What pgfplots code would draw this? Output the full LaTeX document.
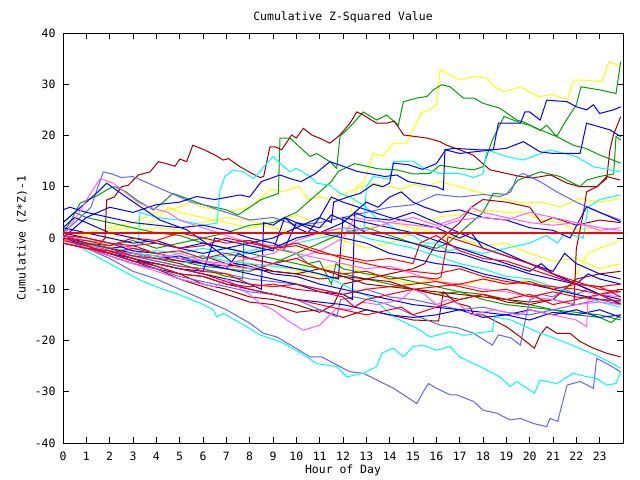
\documentclass[border=0pt]{standalone}
\usepackage{pgfplots}
\pgfplotsset{compat=1.18}
\usepackage{fontspec}
\newfontfamily\gfont{DejaVu Sans Mono}
\definecolor{gR}{HTML}{FF0000}
\definecolor{gDR}{HTML}{A00000}
\definecolor{gG}{HTML}{00A000}
\definecolor{gB}{HTML}{0000FF}
\definecolor{gLB}{HTML}{6464FF}
\definecolor{gC}{HTML}{00FFFF}
\definecolor{gM}{HTML}{FF60FF}
\definecolor{gY}{HTML}{FFFF00}
\begin{document}
\begin{tikzpicture}
\useasboundingbox (-63bp,-37bp) rectangle (577bp,443bp);
\begin{axis}[
  scale only axis, width=560bp, height=410bp,
  xmin=0, xmax=24, ymin=-40, ymax=40,
  xtick={0,1,2,3,4,5,6,7,8,9,10,11,12,13,14,15,16,17,18,19,20,21,22,23},
  xticklabels={0,1,2,3,4,5,6,7,8,9,10,11,12,13,14,15,16,17,18,19,20,21,22,23},
  ytick={-40,-30,-20,-10,0,10,20,30,40},
  yticklabels={-40,-30,-20,-10,0,10,20,30,40},
  tick align=inside, major tick length=6bp,
  tick style={black, line width=0.7bp},
  axis line style={black, line width=0.9bp},
  ticklabel style={font=\gfont\fontsize{11.5}{13}\selectfont},
  xticklabel style={anchor=center, yshift=-13bp},
  yticklabel style={anchor=east, xshift=-4bp},
  title={Cumulative Z-Squared Value},
  title style={font=\gfont\fontsize{11.5}{13}\selectfont, at={(axis description cs:0.5,1)}, anchor=center, yshift=10bp},
  xlabel={Hour of Day},
  xlabel style={font=\gfont\fontsize{11.5}{13}\selectfont, at={(axis description cs:0.5,0)}, anchor=center, yshift=-27bp},
  ylabel={Cumulative (Z*Z)-1},
  ylabel style={font=\gfont\fontsize{11.5}{13}\selectfont, at={(axis description cs:-0.0732,0.5)}, anchor=center},
  every axis plot/.append style={line width=1bp, mark=none},
]
% ---- yellow
\addplot[gY] coordinates {(0,0.5)(0.5,-0.5)(1,-1.5)(1.5,-1)(2,-2.5)(3,-3.5)(4,-3)(5,-4)(6,-3.5)(7,-4.5)(8,-5)(9,-5.5)(9.86,-6.2)(10.5,-6.8)(11.2,-7.5)(11.87,-8.2)(11.95,-3)(12.3,4.2)(12.59,10)(12.9,11)(13.3,16.5)(13.7,16)(14.16,18.5)(14.73,18.5)(15.0,21.1)(15.37,24.5)(15.73,25)(16.0,26)(16.16,32.8)(16.59,31.8)(17.0,30.8)(17.6,31.5)(18.16,31.2)(18.5,29.5)(18.9,28.5)(19.6,29.5)(20.0,28.5)(20.4,27.6)(21.0,28)(21.6,26.9)(21.9,30.8)(22.4,30.8)(23.1,30.5)(23.4,34.4)(23.9,33.4)};
\addplot[gY] coordinates {(0,0)(1,1)(2,2)(3,3)(4,5)(5,6)(5.5,7)(6,6)(7,5)(8,6)(8.9,9.5)(9.4,9)(10.1,10.1)(10.5,7.5)(11,8)(11.5,7.5)(12,8.5)(12.5,9.5)(13.3,10.7)(14,10)(14.5,9.5)(15,10.5)(15.5,10)(16.16,11)(17,10)(18,8.7)(19,7.5)(19.73,6.8)(20.5,7)(21.3,6.1)(22.16,7.7)(23,7)(23.9,7.7)};
\addplot[gY] coordinates {(0,-0.5)(1,-1)(2,0)(3,1)(4,2)(5,1.5)(6,3)(7,4)(8,3.5)(9,2)(10,1)(11,0.5)(12,-0.5)(13,-2)(14,-1)(15,1)(15.5,3)(16.16,4.2)(17,4.5)(18,5.5)(19,5)(19.7,5.1)(20.5,3.5)(21.3,3)(21.9,1.6)(22.6,2)(23.2,1)(23.9,0.9)};
\addplot[gY] coordinates {(0,0)(1,-1.5)(2,-2.5)(3,-4)(4,-5)(5,-5.5)(6,-7)(7,-7.5)(7.5,-4.5)(8,-5)(9,-6.5)(10,-7)(10.5,-5)(11,-6)(12,-5)(13,-7)(14,-8)(15,-9)(16,-8)(17,-9.5)(18,-8)(19,-9)(20,-8)(21,-10)(21.6,-11)(22,-7)(22.5,-3)(23,-2)(23.9,-0.5)};
\addplot[gY] coordinates {(0,0)(1,0.5)(2,1.5)(3,2)(4,3.5)(4.5,6)(5,5)(6,4)(7,3)(8,2)(9,3)(10,4.5)(10.5,3.5)(11,2.5)(12,1)(13,2)(14,3)(15,2)(16,1)(17,0)(18,-1.5)(19,-1)(20,-3)(21,-4.5)(22,-4)(23,-6)(23.9,-5)};
% ---- green
\addplot[gG] coordinates {(0,1)(0.3,3)(0.73,6.8)(1.44,8.2)(2.0,9.7)(2.23,10.0)(2.7,9)(3.16,7.4)(3.87,5.5)(4.3,7)(4.7,8.7)(5.14,8.0)(6,6.5)(6.5,6)(7,5.5)(7.5,4.5)(8,6)(8.5,7.5)(9.23,8.7)(9.3,19.5)(9.73,19.5)(10.2,17.5)(10.59,15.9)(10.87,16.5)(11.44,14.9)(11.73,13.6)(11.87,19.8)(12.3,21.7)(12.87,24.6)(13.44,23.0)(13.87,24.0)(14.37,22.0)(14.59,26.6)(15.16,27.3)(15.59,27.6)(15.87,28.9)(16.23,29.9)(16.59,29.5)(17.16,27.3)(17.6,27.3)(18.0,26.3)(18.73,25.3)(19.45,23.0)(19.7,22.7)(20.45,21.1)(21.16,19.8)(21.87,18.1)(22.4,17.5)(23.0,16.2)(23.9,14.6)};
\addplot[gG] coordinates {(0,0)(1,-1)(2,-1.5)(3,-0.5)(4,-2)(5,-1)(6,0)(7,1)(8,2.5)(9,3)(10,5)(10.5,7)(11,9)(11.5,11)(11.8,13)(12.5,14.5)(13.5,13.5)(14.3,13.3)(15.0,12.5)(15.73,12.6)(16.16,14.2)(17.0,13.6)(17.6,13.3)(18.0,13.9)(18.4,19.1)(18.9,23.7)(19.6,22.5)(20.0,22.0)(20.45,21.0)(20.73,22.0)(21.16,19.8)(21.5,22.5)(22.0,26)(22.2,29.5)(23.0,28.9)(23.7,28.2)(23.9,34.4)};
\addplot[gG] coordinates {(0,0)(1,-1.5)(2,-2.5)(3,-3)(4,-4)(5,-4.5)(6,-5.5)(7,-6)(8,-6.5)(9,-5)(10,-3)(11,-1)(12,1)(13,2)(14,0.5)(15,-1)(16,-2)(16.5,-1)(17,1)(17.5,3)(18,5)(18.44,8.7)(19.0,8.5)(19.5,11.3)(20.45,12.9)(21.3,12.0)(22.16,10.0)(22.44,11.3)(23.0,12)(23.6,12.5)(23.7,19.8)(23.9,19.1)};
\addplot[gG] coordinates {(0,3)(0.5,5)(1,4)(2,3)(3,2)(4,1)(5,0.5)(6,-1)(7,-2)(8,-3)(9,-4)(10,-5)(11,-6)(12,-7)(13,-8)(14,-9)(15,-10)(16,-11)(17,-10.5)(18,-12)(19,-13)(20,-13.5)(21,-14)(22,-15)(23,-15.5)(23.5,-16.5)(23.9,-15)};
\addplot[gG] coordinates {(0,0)(1,-1.5)(2,-2.5)(3,-3.5)(4,-4.5)(5,-5.5)(6,-6)(7,-7.5)(7.7,-8)(7.75,-0.5)(8,-0.5)(9,-2)(10,-3)(10.5,-5)(11,-4.5)(11.5,-9)(11.7,-5)(12,-6)(13,-7)(14,-7.5)(15,-8.5)(16,-9.5)(17,-10.5)(18,-11)(19,-12)(20,-13)(21,-14)(22,-14.5)(23,-15)(23.9,-16)};
% ---- dark red
\addplot[gDR] coordinates {(0,0)(0.5,-0.8)(1,-1.2)(1.5,-1.5)(1.8,0)(1.87,7.4)(2.2,8.0)(2.51,10.0)(2.8,10.3)(3.23,12.3)(3.73,12.9)(4.09,14.9)(4.51,14.4)(4.8,14.0)(5.01,15.4)(5.3,14.9)(5.56,18.1)(6.01,17.3)(6.51,16.2)(6.87,15.2)(7.09,15.5)(7.59,13.9)(8.09,12.6)(8.44,11.8)(8.6,12)(8.87,17.8)(9.09,17.8)(9.37,17.2)(9.8,20.1)(10.0,19.5)(10.3,21.4)(10.66,20.1)(11.09,19.3)(11.44,18.5)(11.87,20.1)(12.3,22.4)(12.59,24.6)(12.87,24.0)(13.44,22.4)(13.87,22.4)(14.2,22.8)(14.6,20.1)(15.6,19.5)(16.16,18.8)(16.44,18.1)(17.0,17.2)(17.57,16.2)(18.3,13.3)(19.0,12.6)(19.6,12.0)(20.1,11.7)(20.9,12.3)(21.6,10.7)(22.16,10.0)(22.9,10.0)(23.3,12.0)(23.87,11.3)};
\addplot[gDR] coordinates {(0,0)(1,-1.5)(2,-2)(3,-3)(4,-3.5)(5,-4.5)(6,-5)(7,-5.5)(8,-5)(9,-6.5)(10,-7)(11,-8)(12,-7.5)(13,-9)(14,-9.5)(15,-10)(16,-10.5)(17,-11)(18,-11.5)(19,-12)(20,-12.5)(21,-12)(21.9,-13)(22.0,-2)(22.3,4.8)(22.44,9.0)(22.87,10.0)(23.3,11.6)(23.44,17.2)(23.59,20.1)(23.9,23.7)};
\addplot[gDR] coordinates {(0,0)(1,-2)(2,-3.5)(3,-5)(4,-6)(5,-8)(6,-9.5)(7,-11)(8,-12.5)(9,-13)(10,-14.5)(11,-14)(12,-15.5)(13,-14)(14,-15)(15,-16)(16.1,-16.2)(16.3,-10.5)(16.87,-12.7)(17.44,-13.4)(17.6,-15.0)(18.0,-15.0)(19.0,-17.3)(19.6,-19.3)(20.2,-21.5)(20.45,-18.9)(20.73,-17.3)(21.16,-18.6)(21.73,-18.6)(22.16,-20.2)(22.73,-21.5)(23.3,-22.5)(23.9,-23.2)};
\addplot[gDR] coordinates {(0,0)(1,-2)(2,-3)(3,-4.5)(4,-6)(5,-7)(6,-9)(7,-10)(8,-11.5)(9,-12)(10,-13)(11,-14.5)(11.6,-13)(12,-9)(13,-8)(14,-8.5)(15,-10)(16,-11)(17,-12)(18,-11)(19,-12.5)(20,-13)(21,-12)(22,-8)(23,-7)(23.9,-6.5)};
\addplot[gDR] coordinates {(0,0)(1,-1)(2,-2)(3,-1.5)(4,-3)(5,-4)(6,-3.5)(7,-5)(8,-6)(9,-6.5)(10,-7)(11,-6)(12,-7.5)(13,-8)(14,-7)(15,-6)(15.5,-5)(16,-1)(16.5,1)(17,3)(17.5,6)(18,7.5)(19,7)(20,6)(20.5,3)(21,4)(22,2.5)(23,3.5)(23.9,3)};
% ---- light blue
\addplot[gLB] coordinates {(0,0)(0.5,-1)(1,-2)(2,-4)(3,-6.5)(4,-8)(5,-10)(6,-12)(7,-14)(8.0,-16.6)(8.59,-18.6)(9.16,-19.3)(9.87,-21.2)(10.59,-23.2)(11.09,-23.2)(11.87,-25.1)(12.3,-26.1)(12.87,-26.4)(13.44,-27.7)(14.16,-29.3)(14.73,-31.0)(15.16,-32.3)(15.44,-30.0)(15.66,-28.4)(16.0,-29.3)(16.59,-30.6)(16.87,-30.6)(17.6,-31.9)(18.0,-33.6)(18.6,-34.2)(19.16,-35.5)(19.6,-35.2)(20.16,-36.2)(20.73,-36.8)(20.87,-35.2)(21.2,-35.8)(21.6,-28.7)(22.16,-28.0)(22.73,-29.3)(22.87,-23.5)(23.3,-24.5)(23.9,-26.1)};
\addplot[gLB] coordinates {(0,0)(1,-1.5)(2,-3.5)(3,-5)(4,-6)(5,-7.5)(6,-8.5)(7,-9.5)(8,-10.5)(9,-11)(10,-12)(11,-14)(11.73,-15.4)(11.9,-12)(12.5,-11.5)(13,-12)(13.73,-12.7)(14.5,-14)(15,-15)(15.6,-16)(16.16,-17)(16.9,-17.5)(17.6,-18.6)(18.4,-20.9)(18.66,-18.9)(19.2,-19.5)(19.6,-20.9)(19.8,-16.3)(20.0,-12.1)(20.5,-11)(21,-11.5)(21.5,-10)(22,-11)(22.5,-10)(23,-11)(23.9,-10.5)};
\addplot[gLB] coordinates {(0,1)(0.5,3)(1.2,6)(1.5,10)(1.73,12.9)(2.1,12.5)(2.5,11.8)(3.0,12.0)(3.5,11)(4.3,9.4)(5,8)(5.5,7)(6,6.5)(7,5)(8,3.5)(9,4)(10,2.5)(11,3)(12,4)(13,5)(14,6)(15,6.5)(16,8.5)(17,8)(18,8.5)(18.73,8.1)(19.2,9)(19.45,12.0)(19.73,12.6)(20.45,11)(21.16,9.0)(22,7)(23,5)(23.9,3.5)};
\addplot[gLB] coordinates {(0,0)(1,-1)(2,-2.5)(3,-3.5)(4,-4.5)(5,-5.5)(6,-6)(7,-7)(8,-8)(9,-8.5)(10,-9)(11,-10)(12,-11)(13,-10)(14,-11.5)(15,-12)(16,-13)(17,-14)(18,-13.5)(19,-14.5)(20,-15)(21,-14)(22,-13)(23,-12)(23.9,-13)};
% ---- cyan
\addplot[gC] coordinates {(0,0)(1,-2.5)(2,-5)(3.3,-8.2)(4.16,-9.8)(5.01,-11.1)(5.87,-12.7)(6.44,-14.0)(6.59,-15.4)(6.87,-14.7)(7.87,-17.3)(8.44,-18.9)(9.44,-20.5)(10.2,-22.5)(10.87,-24.5)(11.73,-25.1)(12.16,-27.1)(12.87,-26.4)(13.44,-25.1)(13.66,-22.5)(14.16,-21.5)(14.59,-23.2)(15.0,-21.2)(15.44,-20.9)(16.0,-21.9)(16.59,-21.2)(17.0,-23.2)(17.87,-25.1)(18.73,-27.1)(19.16,-29.0)(19.45,-28.0)(20.2,-30.3)(20.45,-27.7)(21.16,-28.4)(21.87,-26.4)(22.4,-27)(22.87,-27.4)(23.3,-28.7)(23.7,-28.4)(23.9,-26.1)};
\addplot[gC] coordinates {(0,0)(1,-1.5)(2,-2)(3,-3)(4,-3.5)(5,-4)(6,-3.5)(7,-4.5)(8,-5)(9,-5.5)(10.44,-6.2)(11.3,-7.5)(12.16,-9.5)(13.3,-11.8)(14.16,-15.4)(15.16,-17.6)(15.73,-19.3)(16.59,-18.3)(17.2,-19)(17.8,-18.5)(18.4,-18.2)(18.5,-15.4)(19.2,-16)(20.16,-18.0)(21.6,-20.5)(23.0,-23.2)(23.9,-25.4)};
\addplot[gC] coordinates {(0,0)(1,-1)(2,-2)(3,-3)(4,-2.5)(5,-3)(6,-2)(7,-3)(8,-2.5)(9,-1.5)(10,-1)(11,0)(12,1)(12.9,1.5)(13.0,10)(13.3,12)(14.0,11.5)(14.16,14.9)(15.0,15)(15.5,13.5)(16.16,12.6)(17.0,12.6)(17.6,11.8)(18.0,12.5)(18.16,17.2)(19.0,15.9)(19.73,15.2)(20.87,17.2)(22.0,15.9)(22.73,13.9)(23.9,12.9)};
\addplot[gC] coordinates {(0,0)(1,-1)(2,-2)(3,-2.5)(3.2,-2)(3.3,5)(4,4)(5,3.5)(6,2.5)(6.6,2.9)(6.73,9.4)(6.94,12.0)(7.3,13.3)(7.73,12.9)(8.16,11.6)(8.44,12.9)(8.6,13.9)(9.0,15.9)(9.3,14.6)(9.73,12.9)(10.0,13.6)(10.59,12.0)(10.87,10.7)(11.44,10.3)(11.87,8.7)(12.3,8)(13,6)(13.5,3.5)(14,2.5)(14.5,1)(15,0.5)(15.5,-1)(16,-1)(16.5,-2.5)(17,-2)(18,-3)(19,-2)(20,-1)(20.7,0.5)(21.2,-1)(21.5,1)(22.3,0)(22.5,6)(23,7.5)(23.9,8.4)};
\addplot[gC] coordinates {(0,0)(1,-1)(2,-2)(3,-3)(4,-4)(5,-5)(6,-4)(7,-3.5)(8,-3)(9,-2)(10,0)(11,1)(12,2)(13,0)(14,-1)(15,-2)(16,-3.5)(17,-5)(18,-6)(19,-7.5)(20,-8)(21,-9.5)(22,-11)(23,-12.5)(23.9,-13.5)};
% ---- blue
\addplot[gB] coordinates {(0,0)(0.5,2)(1,4)(1.5,5)(2,6)(3,5)(4,6.5)(5,7)(5.73,8.1)(6.5,7.5)(7.59,8.4)(8,8)(8.5,11)(9.3,12.3)(9.8,11.5)(10.2,11)(10.8,12.5)(11.44,14.9)(12,14)(12.6,13)(13.2,12.5)(13.8,12)(14.3,12.3)(14.8,11)(15.4,10.5)(16.0,10)(16.3,9.4)(16.37,17.2)(16.73,17.5)(17.87,17.2)(18.44,17.2)(18.66,22.4)(19.6,22.4)(19.8,24.6)(20.0,24.6)(20.45,23.0)(20.73,26.9)(21.6,26.6)(22.0,25.6)(22.44,25.0)(22.73,26.0)(23.0,24.3)(23.59,25.0)(23.9,25.6)};
\addplot[gB] coordinates {(0,2)(0.5,4)(1,3)(2,1)(3,0)(4,-1)(5,-2)(6,-1)(7,-2)(8,-1)(9,0)(10,2)(11,4)(11.5,3)(11.6,7)(12.2,8)(12.73,8.7)(13.3,10.5)(13.7,10)(14.0,10.7)(14.16,14.6)(14.8,14.3)(15.4,13.4)(16.0,14.5)(16.4,17.2)(17.0,16.5)(18.0,17)(19.0,17.5)(19.73,18.8)(20.45,16.8)(21.0,16.5)(22.16,16.5)(22.44,22.4)(23.44,21.1)(23.9,19.8)};
\addplot[gB] coordinates {(0,3)(0.5,5)(1,7)(1.5,9)(1.87,10.7)(2.8,7.7)(4.16,3.5)(5.3,1.6)(6.3,-1.5)(7.3,-4.9)(8,-5.5)(9,-7)(10,-7.5)(11,-9)(12,-10)(13,-11)(14,-12)(15,-13)(16,-13.5)(17,-14)(18,-14.5)(19,-15)(20,-14)(21,-15)(22,-14)(23,-15.5)(23.9,-15)};
\addplot[gB] coordinates {(0,5.5)(0.3,6)(1,5)(2,4)(3,3)(4,2.5)(5,2)(6,2.5)(7,1.5)(8,0)(9,-1)(9.5,-2)(10,3)(10.5,2)(11,1)(12,0)(13,-1)(14,-3)(15,-4)(16,-5)(17,-5.5)(18,-7)(19,-8)(20,-9)(21,-10)(22,-11)(23,-12)(23.9,-12.3)};
\addplot[gB] coordinates {(0,0)(1,-2)(2,-3)(3,-4.5)(4,-5)(5,-6)(6,-7)(7,-8)(8,-9)(8.5,-10)(8.6,3)(9,2.5)(9.5,4)(10,2)(10.5,1)(11,4)(11.5,8)(12,7)(13,5.5)(14,4)(15,3)(16,2)(17,0)(17.5,1)(18,-2)(19,-3.5)(20,-5)(21,-6.5)(21.5,-3)(22,-5)(23,-7)(23.9,-8)};
\addplot[gB] coordinates {(0,1)(1,0)(2,-1)(3,-2.5)(4,-3)(5,-4)(6,-5)(7,-6)(8,-7)(9,-8)(10,-9)(11,-10.5)(12,-11)(12.4,-12)(12.5,5)(13,4)(14,3.5)(15,5)(16,3)(17,1)(18,-1)(19,-3)(20,-5)(21,-7)(22,-9)(23,-11)(23.9,-12)};
\addplot[gB] coordinates {(0,2)(1,1)(2,0)(3,-1)(4,-0.5)(5,-2)(6,-3)(7,-2)(8,-3)(9,-2)(10,0)(11,1)(12,3)(12.5,5)(13,7)(13.5,6)(14,8)(14.5,9)(15,7)(15.5,6)(16.16,5)(17,5.5)(18,4)(19,3.5)(20,2)(21,1.5)(21.73,0)(22.44,6.1)(23,5)(23.9,3.2)};
\addplot[gB] coordinates {(0,0.5)(1,-1)(2,-2)(3,-3)(4,-4)(5,-3.5)(6,-5)(7,-6)(7.5,-3)(8,-4)(9,-5)(10,-6)(11,-7)(11.8,-8)(12,4)(13,3)(14,2)(15,1)(16,-0.5)(17,-2)(18,-3.5)(19,-5)(20,-6.5)(20.5,-5)(21,-7)(22,-9)(23,-11)(23.9,-13)};
\addplot[gB] coordinates {(0,-1)(1,-2)(2,-2.5)(3,-4)(4,-5)(5,-6)(6,-6.5)(6.5,0)(7,-0.5)(8,-1.5)(9,-2.5)(9.5,4)(10,3)(11,2)(11.5,4.5)(12,3.5)(13,1)(14,0)(15,-1)(16,-2.5)(17,-3)(18,-4.5)(19,-5.5)(20,-7)(21,-8)(22,-9)(22.5,-7)(23,-8)(23.9,-9)};
\addplot[gB] coordinates {(0,0)(1,-1.5)(2,-3)(3,-4)(4,-5.5)(5,-7)(6,-7.5)(7,-9)(8,-10)(9,-11)(10,-12)(11,-12.5)(12,-13)(13,-14)(14,-15)(15,-15.5)(16,-15)(17,-14)(18,-15.5)(19,-15)(20,-16)(21,-14.5)(22,-15)(23,-14)(23.9,-15.5)};
% ---- magenta
\addplot[gM] coordinates {(0,0)(0.4,3)(0.7,5)(1.0,7.4)(1.3,9.5)(1.59,11.6)(2.16,10.7)(2.73,8.7)(3.2,7)(3.7,6)(4.5,5)(5,3.5)(6,2)(7,0.5)(8,-1)(9,-1.5)(10,-3)(11,-4)(12,-5)(13,-6)(14,-5.5)(15,-7)(16,-8.5)(17,-9)(18,-10)(19,-10.5)(20,-11.5)(21,-12)(22,-13)(23,-12.5)(23.9,-13)};
\addplot[gM] coordinates {(0,0)(1,-2)(2,-3.5)(3,-5)(4,-6.5)(5,-8)(6,-9)(6.5,-9.5)(7,-8)(8,-11)(8.5,-13)(9.0,-14)(9.59,-16.0)(10.3,-18.0)(11,-17)(11.73,-13.7)(12.3,-14)(12.8,-12.5)(13.5,-13)(14.5,-12)(15,-10)(15.5,-11)(16,-13)(16.5,-12)(17,-13)(17.5,-15)(18.5,-14)(19.5,-15)(20,-14)(21,-15)(22,-16)(22.44,-17.3)(22.5,-12.1)(23,-11)(23.9,-11.5)};
\addplot[gM] coordinates {(0,0.5)(1,-0.5)(2,-1)(3,-2)(4,-3)(5,-4)(6,-4.5)(7,-5)(8,-4)(9,-3)(10,-0.5)(11,1)(12,2)(13,1.5)(14,3)(15,4)(16,2.5)(17,4)(17.5,6)(18,5)(19,4)(20,3)(21,2.5)(22,3)(23,1.5)(23.9,2)};
\addplot[gM] coordinates {(0,-0.5)(1,-1.5)(2,-2.5)(3,-3)(4,-4)(5,-3)(6,-4.5)(7,-5.5)(8,-6)(9,-5)(10,-4)(11,-2.5)(12,0)(12.5,4)(13,3.5)(14,3)(15,2.5)(16,2)(17,3.5)(18,4)(19,3.5)(20,5)(21,4)(22,3)(23,2)(23.9,1.5)};
% ---- red
\addplot[gR] coordinates {(0,-0.5)(1,-1.5)(2,-3)(3,-2)(4,-3)(5,-2.5)(6,-4)(7,-3)(8,-4)(9,-5)(10,-4)(11,-6)(12,-7)(13,-6.5)(14,-8)(15,-7.5)(16,-8)(16.2,-7.6)(16.5,0.2)(17,-0.5)(18,-2)(19,-3.5)(20,-5)(21,-7)(22,-8.5)(23,-10)(23.9,-10.5)};
\addplot[gR] coordinates {(0,0)(1,-1)(2,-2)(3,-3.5)(4,-4)(5,-5)(6,-6.5)(7,-7)(8,-9)(9,-9.5)(10,-9)(11,-10)(12,-11)(13,-10)(14,-9.5)(15,-9)(16,-8.5)(17,-9.5)(18,-10.5)(19,-10)(20,-11.5)(21,-10.5)(22,-11.5)(23,-12)(23.9,-12.3)};
\addplot[gR] coordinates {(0,0.5)(1,0)(2,-1)(3,-1.5)(4,-1)(5,-2)(6,-1.5)(7,0)(8,-1)(9,-2)(10,-1.5)(11,-3)(12,-3.5)(13,-4.5)(14,-4)(15,-5)(15.3,-1)(16,0.5)(16.5,-1)(17,-2.5)(18,-4)(19,-4.5)(20,-6)(21,-7.5)(22,-9)(23,-9.5)(23.9,-11.5)};
\addplot[gR] coordinates {(0,-1)(1,-2)(2,-2.5)(3,-4)(4,-5)(5,-6)(6,-7)(7,-8.5)(8,-10)(9,-11)(10,-12)(11,-13)(12,-14)(13,-15)(14,-14)(14.5,-13.5)(15,-15)(16,-13.5)(17,-12)(18,-11)(19,-12)(20,-11)(21,-13)(22,-12)(23,-11)(23.9,-12.8)};
\addplot[gR] coordinates {(0,0)(1,-0.5)(2,-1.5)(3,0)(4,-0.5)(5,1)(6,0)(7,-1)(8,-0.5)(9,-2)(10,-1)(11,-2.5)(12,-4)(13,-5)(14,-6)(15,-6.5)(16,-7)(17,-6)(18,-7.5)(19,-8.5)(20,-9)(21,-9.5)(22,-10)(23,-11)(23.9,-10)};
\addplot[gR] coordinates {(0,-1)(1,-2)(2,-3)(3,-4.5)(4,-5.5)(5,-7)(6,-7.5)(7,-9)(8,-9.5)(9,-9)(10,-10)(11,-10.5)(12,-11.5)(12.5,-13.5)(13,-12)(14,-11)(15,-10)(16,-9.5)(17,-9)(18,-8)(19,-9)(20,-8.5)(21,-10)(22,-9)(23,-9.5)(23.9,-9)};
% ---- reference line
\addplot[gR, line width=1.8bp] coordinates {(0,1)(24,1)};
\end{axis}
\end{tikzpicture}
\end{document}
